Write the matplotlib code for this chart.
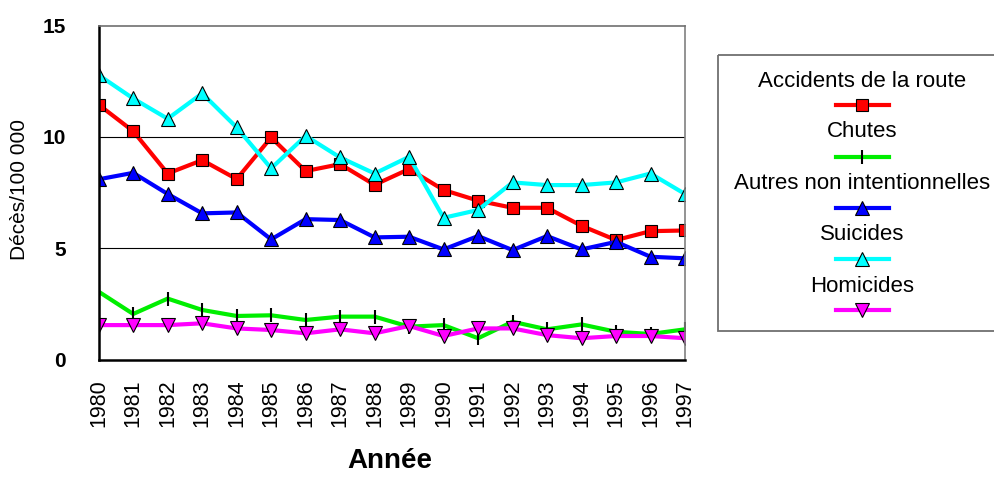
import matplotlib
matplotlib.use("Agg")
import matplotlib.pyplot as plt
from matplotlib.lines import Line2D
from matplotlib.patches import Rectangle

plt.rcParams['font.family'] = ['Liberation Sans', 'DejaVu Sans']

years = list(range(1980, 1998))
accidents = [11.45, 10.26, 8.36, 8.96, 8.11, 9.98, 8.47, 8.78, 7.85, 8.56,
             7.62, 7.14, 6.82, 6.82, 6.01, 5.37, 5.77, 5.80]
chutes = [3.05, 2.05, 2.74, 2.23, 1.96, 1.99, 1.78, 1.93, 1.93, 1.48,
          1.55, 0.96, 1.70, 1.36, 1.58, 1.25, 1.15, 1.36]
autres = [8.10, 8.39, 7.44, 6.57, 6.61, 5.40, 6.31, 6.27, 5.49, 5.52,
          4.95, 5.55, 4.92, 5.55, 4.95, 5.29, 4.62, 4.55]
suicides = [12.78, 11.73, 10.82, 11.96, 10.43, 8.59, 10.05, 9.08, 8.36, 9.11,
            6.37, 6.72, 7.96, 7.84, 7.84, 7.96, 8.36, 7.44]
homicides = [1.55, 1.55, 1.55, 1.63, 1.40, 1.33, 1.18, 1.36, 1.18, 1.51,
             1.06, 1.40, 1.40, 1.10, 0.96, 1.06, 1.06, 0.96]

labels = ["Accidents de la route", "Chutes", "Autres non intentionnelles",
          "Suicides", "Homicides"]
series = [accidents, chutes, autres, suicides, homicides]
styles = [
    dict(color='#FF0000', marker='s', ms=9.3, mfc='#FF0000', mec='black', mew=0.8),
    dict(color='#00EE00', marker='|', ms=10, mfc='black', mec='black', mew=1.5),
    dict(color='#0000FF', marker='^', ms=10, mfc='#0000FF', mec='black', mew=0.8),
    dict(color='#00FFFF', marker='^', ms=10, mfc='#00FFFF', mec='black', mew=0.8),
    dict(color='#FF00FF', marker='v', ms=10, mfc='#FF00FF', mec='black', mew=0.8),
]

W, H = 995, 478
fig = plt.figure(figsize=(W / 100, H / 100), dpi=100)
ax = fig.add_axes([98.7 / W, 1 - 359.6 / H, (685 - 98.7) / W, (359.6 - 25.7) / H])

for vals, st, lab in zip(series, styles, labels):
    ax.plot(years, vals, lw=3, label=lab, solid_joinstyle='miter', **st)

ax.set_xlim(1980, 1997)
ax.set_ylim(0, 15)
ax.set_yticks([0, 5, 10, 15])
ax.set_xticks(years)
ax.set_xticklabels([str(y) for y in years], rotation=90, fontsize=15.5)
for t in ax.get_yticklabels():
    t.set_fontweight('bold')
    t.set_fontsize(15)
ax.tick_params(axis='y', length=0, pad=23.5)
ax.tick_params(axis='x', length=0, pad=14)
for y in (5, 10):
    ax.axhline(y, color='black', lw=0.8, zorder=0.5)
ax.spines['left'].set_linewidth(1.8)
ax.spines['bottom'].set_linewidth(1.8)
ax.spines['top'].set_color('#707070')
ax.spines['right'].set_color('#808080')
ax.spines['top'].set_linewidth(1.2)
ax.spines['right'].set_linewidth(1.2)

fig.text(20 / W, 1 - 189 / H, "Décès/100 000", rotation=90, ha='center',
         va='center', fontsize=15)
fig.text(390 / W, 1 - 461 / H, "Année", ha='center', va='center',
         fontsize=20, fontweight='bold')

# Legend (text above each handle)
lax = fig.add_axes([0, 0, 1, 1], facecolor='none')
lax.set_xlim(0, W)
lax.set_ylim(H, 0)
lax.axis('off')
lax.add_patch(Rectangle((718, 55), 300, 275.7, fill=False, edgecolor='#707070',
                        lw=1.3, clip_on=False))
text_y = [81.7, 131.7, 183.3, 234.3, 286]
line_y = [105, 156.7, 207.7, 259, 310]
cx = 862.3
for lab, st, ty, ly in zip(labels, styles, text_y, line_y):
    lax.text(cx, ty, lab, ha='center', va='center', fontsize=16)
    lax.add_line(Line2D([836, 889], [ly, ly], lw=3, color=st['color']))
    lax.add_line(Line2D([cx], [ly], lw=0, marker=st['marker'], ms=st['ms'],
                        mfc=st['mfc'], mec=st['mec'], mew=st['mew']))

fig.savefig("out.png", dpi=100)
